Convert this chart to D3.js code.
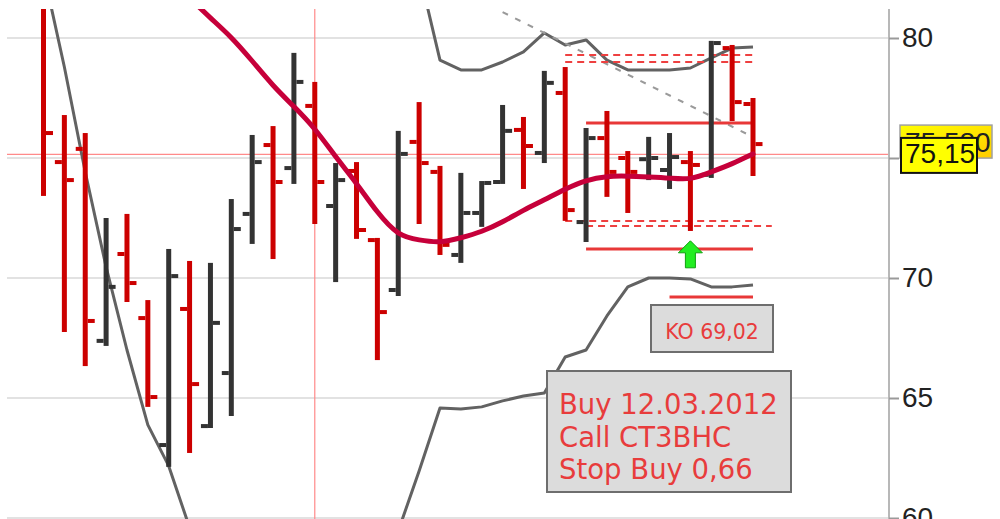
<!DOCTYPE html>
<html>
<head>
<meta charset="utf-8">
<script src="https://cdn.jsdelivr.net/npm/d3@7"></script>
<style>
  body { margin: 0; background: #fff; }
  svg { display: block; }
</style>
</head>
<body>
<div id="chart"></div>
<script>
// daily bars, 27.01.2012 - 15.03.2012
const dates = ["27.01", "30.01", "31.01", "01.02", "02.02", "03.02", "06.02", "07.02", "08.02", "09.02",
               "10.02", "13.02", "14.02", "15.02", "16.02", "17.02", "20.02", "21.02", "22.02", "23.02",
               "24.02", "27.02", "28.02", "29.02", "01.03", "02.03", "05.03", "06.03", "07.03", "08.03",
               "09.03", "12.03", "13.03", "14.03", "15.03"];
const open  = [81.5, 74.83, 75.38, 67.38, 71.0, 68.33, 63.04, 68.71, 63.83, 66.04,
               72.67, 75.54, 74.58, 77.17, 73.0, 74.46, 71.58, 69.5, 75.67, 74.42,
               70.96, 72.71, 74.0, 76.17, 75.21, 77.71, 72.33, 75.83, 75.0, 74.95,
               74.5, 74.83, 74.3, 79.58, 77.25];
const high  = [81.8, 76.79, 76.04, 72.5, 72.67, 69.08, 71.21, 70.71, 70.63, 73.29,
               75.96, 76.33, 79.38, 78.17, 74.79, 74.83, 71.67, 76.13, 77.33, 74.67,
               74.38, 74.04, 77.21, 76.71, 78.63, 78.79, 76.25, 76.96, 75.29, 75.88,
               76.04, 75.29, 79.88, 79.71, 77.5];
const low   = [73.42, 67.75, 66.33, 67.17, 69.0, 64.63, 62.13, 62.71, 63.75, 64.25,
               71.42, 70.79, 73.92, 72.25, 69.83, 71.63, 66.58, 69.25, 72.25, 70.96,
               70.63, 72.13, 73.92, 73.71, 74.79, 72.38, 71.5, 73.38, 72.71, 74.08,
               73.71, 71.96, 74.17, 76.54, 74.25];
const close = [76.04, 74.08, 68.21, 69.63, 69.79, 65.04, 70.08, 65.58, 68.13, 72.04,
               74.83, 74.0, 78.17, 74.0, 74.08, 72.0, 68.58, 75.17, 74.79, 71.38,
               72.71, 73.96, 76.13, 75.5, 78.13, 72.83, 75.83, 74.42, 74.42, 75.0,
               75.04, 74.71, 79.79, 77.33, 75.58];

const movingAvg = [null, null, null, null, null, null, null, 81.67, 80.83, 80.05,
                   79.05, 78.0, 77.15, 76.25, 75.04, 73.96, 72.71, 71.75, 71.58, 71.46,
                   71.67, 71.92, 72.33, 72.83, 73.25, 73.71, 74.08, 74.25, 74.25, 74.21,
                   74.17, 74.08, 74.42, 74.75, 75.17];
const bandUpper = [null, null, null, null, null, null, null, null, null, null,
                   null, null, null, null, null, null, null, 85.0, 82.75, 79.08,
                   78.67, 78.67, 79.0, 79.42, 80.21, 79.71, 79.92, 79.08, 78.67, 78.67,
                   78.67, 78.75, 79.17, 79.58, 79.63];
const bandLower = [82.75, 78.79, 74.42, 70.46, 67.0, 63.88, 62.17, 59.6, 57.9, 56.8,
                   56.2, 55.9, 55.8, 56.0, 56.4, 57.0, 57.8, 59.46, 61.96, 64.58,
                   64.54, 64.63, 64.88, 65.08, 65.21, 66.71, 67.0, 68.42, 69.63, 70.0,
                   70.0, 69.96, 69.63, 69.63, 69.71];

const trendLine = [{ i: 22, v: 81.08 }, { i: 34, v: 75.875 }];
const solidLevels = [{ from: 26, to: 34, v: 76.46 }, { from: 26, to: 34, v: 71.21 }, { from: 30, to: 34, v: 69.21 }];
const dashedLevels = [{ from: 25, to: 34, v: 79.29 }, { from: 25, to: 34, v: 79.0 },
                      { from: 25, to: 34, v: 72.375 }, { from: 26, to: 34.9, v: 72.17 }];
const yTicks = [60, 65, 70, 75, 80];
const crossValue = 75.15, crossIndex = 13;
const lastLabel = "75,580", crossLabel = "75,15";
const signalIndex = 31, signalValue = 71.55;
const koText = "KO 69,02";
const noteLines = ["Buy 12.03.2012", "Call CT3BHC", "Stop Buy 0,66"];

const width = 1000, height = 519;
const plot = { left: 7, right: 889, top: 9, bottom: 519 };

const svg = d3.create("svg").attr("width", width).attr("height", height);

const x = d3.scaleLinear().domain([0, dates.length - 1]).range([43.5, 753]);
const y = d3.scaleLinear().domain([60, 80]).range([518, 38]);

svg.append("defs").append("clipPath").attr("id", "plotclip")
  .append("rect")
    .attr("x", plot.left).attr("y", plot.top)
    .attr("width", plot.right - plot.left).attr("height", plot.bottom - plot.top);

// grid
svg.append("g").selectAll("line").data(yTicks).join("line")
    .attr("x1", plot.left).attr("x2", plot.right)
    .attr("y1", d => y(d)).attr("y2", d => y(d))
    .attr("stroke", "#e2e2e2").attr("stroke-width", 2);

const g = svg.append("g").attr("clip-path", "url(#plotclip)");

// crosshair
g.append("line")
    .attr("x1", plot.left).attr("x2", plot.right)
    .attr("y1", y(crossValue)).attr("y2", y(crossValue))
    .attr("stroke", "#ff8a8a").attr("stroke-width", 1.2);
g.append("line")
    .attr("x1", x(crossIndex)).attr("x2", x(crossIndex))
    .attr("y1", plot.top).attr("y2", plot.bottom)
    .attr("stroke", "#ff8a8a").attr("stroke-width", 1.2);

// bands
const line = d3.line().defined(d => d != null).x((d, i) => x(i)).y(d => y(d));
[bandUpper, bandLower].forEach(band => {
  g.append("path").datum(band)
    .attr("d", line)
    .attr("fill", "none").attr("stroke", "#626262").attr("stroke-width", 3)
    .attr("stroke-linejoin", "round");
});

// trend line
g.append("line")
    .attr("x1", x(trendLine[0].i)).attr("y1", y(trendLine[0].v))
    .attr("x2", x(trendLine[1].i)).attr("y2", y(trendLine[1].v))
    .attr("stroke", "#9a9a9a").attr("stroke-width", 2).attr("stroke-dasharray", "6,8");

// level lines
g.append("g").selectAll("line").data(dashedLevels).join("line")
    .attr("x1", d => x(d.from)).attr("x2", d => x(d.to))
    .attr("y1", d => y(d.v)).attr("y2", d => y(d.v))
    .attr("stroke", "#ee4040").attr("stroke-width", 2).attr("stroke-dasharray", "7,5");
g.append("g").selectAll("line").data(solidLevels).join("line")
    .attr("x1", d => x(d.from)).attr("x2", d => x(d.to))
    .attr("y1", d => y(d.v)).attr("y2", d => y(d.v))
    .attr("stroke", "#e83838").attr("stroke-width", 3);

// OHLC bars
const bars = g.append("g").selectAll("g").data(dates).join("g")
    .attr("fill", (d, i) => close[i] >= open[i] ? "#333333" : "#cc0000");
bars.append("rect")
    .attr("x", (d, i) => x(i) - 2.5).attr("width", 5)
    .attr("y", (d, i) => y(high[i])).attr("height", (d, i) => y(low[i]) - y(high[i]));
bars.append("rect")
    .attr("x", (d, i) => x(i) - 9.5).attr("width", 7)
    .attr("y", (d, i) => y(open[i]) - 2).attr("height", 4);
bars.append("rect")
    .attr("x", (d, i) => x(i) + 2.5).attr("width", 7)
    .attr("y", (d, i) => y(close[i]) - 2).attr("height", 4);

// moving average
const maLine = d3.line().defined(d => d != null).x((d, i) => x(i)).y(d => y(d))
    .curve(d3.curveBasis);
g.append("path").datum(movingAvg)
    .attr("d", maLine)
    .attr("fill", "none").attr("stroke", "#c6003a").attr("stroke-width", 5)
    .attr("stroke-linecap", "round");

// buy signal arrow
const ax = x(signalIndex), ay = y(signalValue);
svg.append("path")
    .attr("d", `M${ax},${ay} L${ax + 12},${ay + 12} L${ax + 5},${ay + 12} L${ax + 5},${ay + 27}
                L${ax - 5},${ay + 27} L${ax - 5},${ay + 12} L${ax - 12},${ay + 12} Z`)
    .attr("fill", "#22ee22").attr("stroke", "#10a010").attr("stroke-width", 1);

// right axis
svg.append("line")
    .attr("x1", plot.right).attr("x2", plot.right)
    .attr("y1", plot.top).attr("y2", height)
    .attr("stroke", "#b8b8b8").attr("stroke-width", 2);
const axis = svg.append("g")
    .attr("transform", `translate(${plot.right},0)`)
    .call(d3.axisRight(y).tickValues(yTicks).tickSize(10).tickSizeOuter(0).tickPadding(3));
axis.select(".domain").remove();
axis.selectAll(".tick line").attr("stroke", "#9a9a9a").attr("stroke-width", 2);
axis.selectAll(".tick text")
    .attr("font-family", "Liberation Sans, Arial, sans-serif")
    .attr("font-size", 28).attr("fill", "#222");

// price labels
const grad = svg.select("defs").append("linearGradient")
    .attr("id", "lastgrad").attr("x1", 0).attr("y1", 0).attr("x2", 1).attr("y2", 1);
grad.append("stop").attr("offset", "0%").attr("stop-color", "#ffff00");
grad.append("stop").attr("offset", "100%").attr("stop-color", "#ffcc00");

svg.append("rect")
    .attr("x", 900).attr("y", y(close[close.length - 1]) - 19).attr("width", 92).attr("height", 33)
    .attr("fill", "url(#lastgrad)").attr("stroke", "#a0a0a0").attr("stroke-width", 1.5);
svg.append("text")
    .attr("x", 905).attr("y", y(close[close.length - 1]) + 8)
    .attr("font-family", "Liberation Sans, Arial, sans-serif").attr("font-size", 28).attr("fill", "#222")
    .text(lastLabel);

svg.append("rect")
    .attr("x", 901).attr("y", y(crossValue) - 16.5).attr("width", 76).attr("height", 35)
    .attr("fill", "#ffff00").attr("stroke", "#111").attr("stroke-width", 2);
svg.append("text")
    .attr("x", 905).attr("y", y(crossValue) + 9)
    .attr("font-family", "Liberation Sans, Arial, sans-serif").attr("font-size", 28).attr("fill", "#111")
    .text(crossLabel);

// KO box
svg.append("rect")
    .attr("x", 651).attr("y", 305).attr("width", 122).attr("height", 47)
    .attr("fill", "#dcdcdc").attr("stroke", "#6e6e6e").attr("stroke-width", 2);
svg.append("text")
    .attr("x", 712).attr("y", 339).attr("text-anchor", "middle")
    .attr("font-family", "DejaVu Sans, sans-serif").attr("font-size", 20.5).attr("fill", "#e83c3c")
    .text(koText);

// note box
svg.append("rect")
    .attr("x", 547).attr("y", 371).attr("width", 244).attr("height", 121)
    .attr("fill", "#dcdcdc").attr("stroke", "#6e6e6e").attr("stroke-width", 2);
svg.append("g").selectAll("text").data(noteLines).join("text")
    .attr("x", 559).attr("y", (d, i) => 414 + i * 32.5)
    .attr("font-family", "DejaVu Sans, sans-serif").attr("font-size", 27.5).attr("fill", "#e83c3c")
    .text(d => d);

document.getElementById("chart").appendChild(svg.node());
</script>
</body>
</html>
